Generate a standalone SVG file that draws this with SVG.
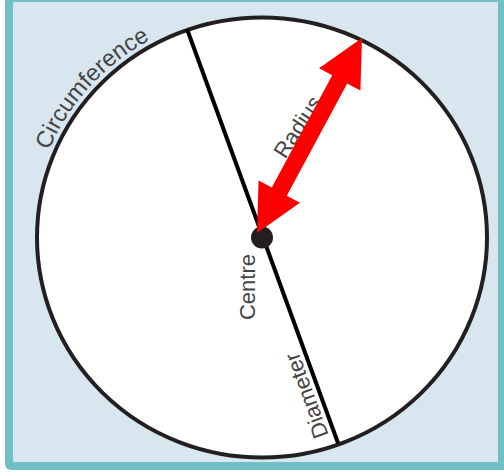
<svg xmlns="http://www.w3.org/2000/svg" width="504" height="476" viewBox="0 0 504 476">
  <style>
    .lbl { font-family: "Liberation Sans", Arial, sans-serif; font-size: 22px; fill: #444444; }
  </style>
  <defs>
    <path id="circPath" d="M 34.5 198.3 A 231 226 0 0 1 262 11.5"/>
  </defs>
  <rect width="504" height="476" fill="#ffffff"/>
  <g id="frame">
    <rect x="5" y="-10" width="512" height="480" rx="6" fill="#72BFC5"/>
    <rect x="13" y="2" width="485" height="460" fill="#D8E6EF"/>
  </g>
  <g id="circle">
    <ellipse cx="262" cy="237.5" rx="225" ry="220" fill="#ffffff" stroke="#231f20" stroke-width="4"/>
    <text class="lbl" style="font-size:23.5px"><textPath href="#circPath" startOffset="50">Circumference</textPath></text>
  </g>
  <g id="connectors">
    <g id="diameter">
      <line x1="187" y1="29" x2="338" y2="443" stroke="#000000" stroke-width="4"/>
      <text class="lbl" transform="translate(313.5,393) rotate(-110)" text-anchor="middle">Diameter</text>
    </g>
  </g>
  <g id="centre">
    <circle cx="262" cy="237.5" r="11" fill="#231f20"/>
    <text class="lbl" transform="translate(255,287) rotate(-90)" text-anchor="middle">Centre</text>
  </g>
  <g id="radius">
    <text class="lbl" transform="translate(304,131) rotate(-57)" text-anchor="middle">Radius</text>
    <polygon transform="translate(257,233) rotate(-61.7)" fill="#ff0000" points="0,0 47,-23.5 47,-8.5 174.5,-8.5 174.5,-23.5 221.5,0 174.5,23.5 174.5,8.5 47,8.5 47,23.5"/>
  </g>
</svg>
